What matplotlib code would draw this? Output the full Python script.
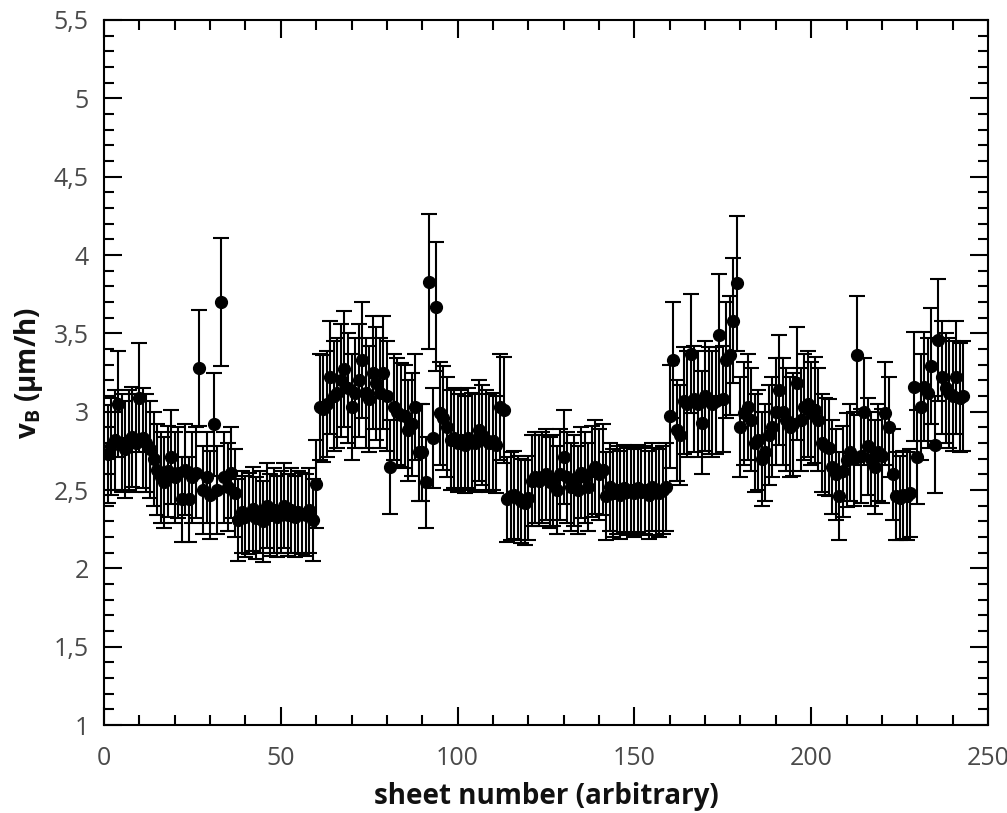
import matplotlib
matplotlib.use("Agg")
import matplotlib.pyplot as plt
from matplotlib.ticker import MultipleLocator, FuncFormatter

sheet = list(range(1, 244))

vb = [
    2.73, 2.78, 2.82, 3.05, 2.80, 2.76, 2.82, 2.84, 2.80, 3.09,
    2.83, 2.80, 2.76, 2.70, 2.63, 2.58, 2.55, 2.62, 2.71, 2.58,
    2.61, 2.44, 2.63, 2.44, 2.58, 2.61, 3.28, 2.50, 2.58, 2.47,
    2.92, 2.50, 3.70, 2.58, 2.52, 2.61, 2.48, 2.31, 2.36, 2.33,
    2.35, 2.38, 2.32, 2.36, 2.30, 2.40, 2.34, 2.37, 2.33, 2.36,
    2.40, 2.34, 2.37, 2.33, 2.36, 2.35, 2.34, 2.37, 2.31, 2.54,
    3.03, 3.02, 3.05, 3.22, 3.10, 3.12, 3.20, 3.27, 3.15, 3.03,
    3.12, 3.20, 3.33, 3.12, 3.08, 3.25, 3.18, 3.12, 3.25, 3.10,
    2.65, 3.03, 3.00, 2.98, 2.97, 2.88, 2.92, 3.03, 2.74, 2.74,
    2.55, 3.83, 2.83, 3.67, 2.99, 2.96, 2.90, 2.82, 2.83, 2.80,
    2.82, 2.79, 2.83, 2.81, 2.80, 2.88, 2.85, 2.82, 2.80, 2.81,
    2.79, 3.03, 3.01, 2.44, 2.46, 2.47, 2.45, 2.43, 2.42, 2.45,
    2.56, 2.58, 2.56, 2.58, 2.60, 2.55, 2.56, 2.50, 2.60, 2.71,
    2.58, 2.52, 2.56, 2.50, 2.61, 2.58, 2.52, 2.62, 2.65, 2.60,
    2.63, 2.46, 2.52, 2.48, 2.50, 2.47, 2.51, 2.49, 2.50, 2.48,
    2.51, 2.49, 2.50, 2.47, 2.52, 2.49, 2.48, 2.50, 2.52, 2.97,
    3.33, 2.88, 2.85, 3.07, 3.05, 3.37, 3.08, 3.05, 2.93, 3.10,
    3.07, 3.05, 3.07, 3.49, 3.08, 3.33, 3.36, 3.58, 3.82, 2.90,
    2.99, 3.03, 2.95, 2.80, 2.82, 2.70, 2.74, 2.85, 2.90, 3.00,
    3.14, 3.00, 2.95, 2.90, 2.92, 3.18, 2.95, 3.03, 3.05, 2.99,
    3.01, 2.95, 2.80, 2.78, 2.77, 2.65, 2.60, 2.46, 2.62, 2.69,
    2.74, 2.70, 3.36, 2.72, 3.00, 2.78, 2.70, 2.65, 2.74, 2.72,
    2.99, 2.90, 2.60, 2.46, 2.45, 2.47, 2.46, 2.48, 3.16, 2.71,
    3.03, 3.16, 3.12, 3.29, 2.79, 3.46, 3.22, 3.15, 3.12, 3.10,
    3.22, 3.09, 3.10,
]

vb_err = [
    0.31, 0.31, 0.32, 0.34, 0.31, 0.31, 0.32, 0.32, 0.31, 0.35,
    0.32, 0.31, 0.31, 0.30, 0.29, 0.29, 0.29, 0.29, 0.30, 0.29,
    0.29, 0.27, 0.29, 0.27, 0.29, 0.29, 0.37, 0.28, 0.29, 0.28,
    0.33, 0.28, 0.41, 0.29, 0.28, 0.29, 0.28, 0.26, 0.26, 0.26,
    0.26, 0.27, 0.26, 0.26, 0.26, 0.27, 0.26, 0.27, 0.26, 0.26,
    0.27, 0.26, 0.27, 0.26, 0.26, 0.26, 0.26, 0.27, 0.26, 0.28,
    0.34, 0.34, 0.34, 0.36, 0.35, 0.35, 0.36, 0.37, 0.35, 0.34,
    0.35, 0.36, 0.37, 0.35, 0.34, 0.36, 0.36, 0.35, 0.36, 0.35,
    0.30, 0.34, 0.34, 0.33, 0.33, 0.32, 0.33, 0.34, 0.31, 0.31,
    0.29, 0.43, 0.32, 0.41, 0.33, 0.33, 0.32, 0.32, 0.32, 0.31,
    0.32, 0.31, 0.32, 0.31, 0.31, 0.32, 0.32, 0.32, 0.31, 0.31,
    0.31, 0.34, 0.34, 0.27, 0.28, 0.28, 0.27, 0.27, 0.27, 0.27,
    0.29, 0.29, 0.29, 0.29, 0.29, 0.29, 0.29, 0.28, 0.29, 0.30,
    0.29, 0.28, 0.29, 0.28, 0.29, 0.29, 0.28, 0.29, 0.30, 0.29,
    0.29, 0.28, 0.28, 0.28, 0.28, 0.28, 0.28, 0.28, 0.28, 0.28,
    0.28, 0.28, 0.28, 0.28, 0.28, 0.28, 0.28, 0.28, 0.28, 0.33,
    0.37, 0.32, 0.32, 0.34, 0.34, 0.38, 0.34, 0.34, 0.33, 0.35,
    0.34, 0.34, 0.34, 0.39, 0.34, 0.37, 0.38, 0.40, 0.43, 0.32,
    0.33, 0.34, 0.33, 0.31, 0.32, 0.30, 0.31, 0.32, 0.32, 0.34,
    0.35, 0.34, 0.33, 0.32, 0.33, 0.36, 0.33, 0.34, 0.34, 0.33,
    0.34, 0.33, 0.31, 0.31, 0.31, 0.30, 0.29, 0.28, 0.29, 0.30,
    0.31, 0.30, 0.38, 0.30, 0.34, 0.31, 0.30, 0.30, 0.31, 0.30,
    0.33, 0.32, 0.29, 0.28, 0.27, 0.28, 0.28, 0.28, 0.35, 0.30,
    0.34, 0.35, 0.35, 0.37, 0.31, 0.39, 0.36, 0.35, 0.35, 0.35,
    0.36, 0.35, 0.35,
]

x_ticks = [0, 50, 100, 150, 200, 250]
y_ticks = [1, 1.5, 2, 2.5, 3, 3.5, 4, 4.5, 5, 5.5]

FONT = ["Open Sans", "DejaVu Sans"]
plt.rcParams["font.family"] = FONT
plt.rcParams["mathtext.fontset"] = "custom"
plt.rcParams["mathtext.rm"] = "Open Sans"
plt.rcParams["mathtext.bf"] = "Open Sans:bold"

fig = plt.figure(figsize=(10.07, 8.13), dpi=100)
ax = fig.add_axes([0.1033, 0.1082, 0.8778, 0.8672])

ax.errorbar(sheet, vb, yerr=vb_err, fmt="o", color="black", ecolor="black",
            markersize=8.5, elinewidth=1.5, capsize=5.5, capthick=1.5)

ax.set_xlim(0, 250)
ax.set_ylim(1, 5.5)
ax.set_xticks(x_ticks)
ax.set_yticks(y_ticks)
ax.xaxis.set_minor_locator(MultipleLocator(10))
ax.yaxis.set_minor_locator(MultipleLocator(0.1))

def comma(v, pos):
    s = ("%g" % v)
    return s.replace(".", ",")

ax.yaxis.set_major_formatter(FuncFormatter(comma))
ax.xaxis.set_major_formatter(FuncFormatter(comma))

ax.tick_params(which="both", direction="in", top=True, right=True,
               width=1.5, color="black")
ax.tick_params(which="major", length=13, labelsize=18, labelcolor="#4a4a4a")
ax.tick_params(axis="x", which="major", pad=15)
ax.tick_params(axis="y", which="major", pad=11)
ax.tick_params(which="minor", length=7.5)
for sp in ax.spines.values():
    sp.set_linewidth(1.5)

ax.set_xlabel("sheet number (arbitrary)", fontsize=20, fontweight="bold",
              color="#111111", labelpad=8)
ax.set_ylabel(r"$\mathbf{v_B}$ (µm/h)", fontsize=20, fontweight="bold",
              color="#111111", labelpad=6)

fig.savefig("out.png", dpi=100)
